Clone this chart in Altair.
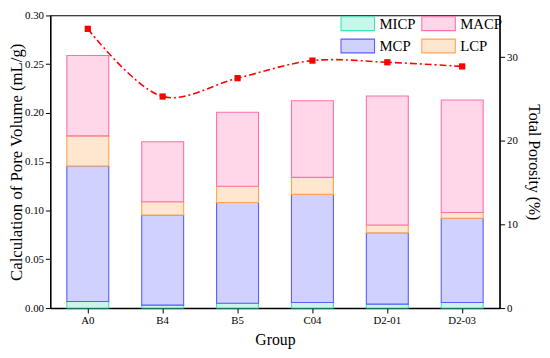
import altair as alt
import pandas as pd

groups = ["A0", "B4", "B5", "C04", "D2-01", "D2-03"]
micp = [0.0068, 0.0030, 0.0050, 0.0057, 0.0040, 0.0057]
mcp = [0.1389, 0.0924, 0.1033, 0.1109, 0.0732, 0.0863]
lcp = [0.0308, 0.0136, 0.0166, 0.0174, 0.0079, 0.0060]
macp = [0.0825, 0.0615, 0.0758, 0.0786, 0.1324, 0.1153]
porosity = [33.4, 25.3, 27.5, 29.6, 29.4, 28.9]

types = ["MICP", "MCP", "LCP", "MACP"]
legend_order = ["MICP", "MCP", "MACP", "LCP"]
stroke_colors = {"MICP": "#3ee0b8", "MACP": "#ff6fae", "MCP": "#5c5cff", "LCP": "#ffa552"}


def tint(hex_color, f=0.28):
    r, g, b = (int(hex_color[i:i + 2], 16) for i in (1, 3, 5))
    mix = lambda c: int(round(255 - (255 - c) * f))
    return "#{:02x}{:02x}{:02x}".format(mix(r), mix(g), mix(b))


rows = []
for i, g in enumerate(groups):
    for k, (t, vals) in enumerate(zip(types, [micp, mcp, lcp, macp])):
        rows.append({"Group": g, "Type": t, "Value": vals[i], "order": k})
bars_df = pd.DataFrame(rows)
line_df = pd.DataFrame({"Group": groups, "Porosity": porosity})

font = "Liberation Serif"

legend_kw = dict(title=None, orient="none", legendX=304, legendY=0, padding=0,
                 columns=2, columnPadding=3, rowPadding=3,
                 symbolType="M-2.43,-1H2.43V1H-2.43Z", symbolSize=196,
                 symbolStrokeWidth=1.1, labelFontSize=15, labelFont=font,
                 labelOffset=14, labelColor="black")

x_enc = alt.X(
    "Group:N",
    sort=groups,
    scale=alt.Scale(paddingInner=0.44, paddingOuter=0.22),
    axis=alt.Axis(title="Group", labelAngle=0, titleFontSize=16,
                  labelFontSize=11, titlePadding=6),
)

bars = alt.Chart(bars_df).mark_bar(strokeWidth=1.1).encode(
    x=x_enc,
    y=alt.Y("Value:Q", stack="zero",
            scale=alt.Scale(domain=[0, 0.30], nice=False),
            axis=alt.Axis(title="Calculation of Pore Volume (mL/g)",
                          values=[0, 0.05, 0.10, 0.15, 0.20, 0.25, 0.30],
                          format=".2f", titleFontSize=17, labelFontSize=11,
                          labelPadding=2, titleX=-25)),
    fill=alt.Fill("Type:N",
                  scale=alt.Scale(domain=legend_order,
                                  range=[tint(stroke_colors[t]) for t in legend_order]),
                  legend=alt.Legend(**legend_kw)),
    stroke=alt.Stroke("Type:N",
                      scale=alt.Scale(domain=legend_order,
                                      range=[stroke_colors[t] for t in legend_order]),
                      legend=alt.Legend(**legend_kw)),
    order=alt.Order("order:Q"),
)

base_line = alt.Chart(line_df).encode(
    x=alt.X("Group:N", sort=groups),
    y=alt.Y("Porosity:Q",
            scale=alt.Scale(domain=[0, 35], nice=False),
            axis=alt.Axis(title="Total Porosity (%)", orient="right",
                          values=[0, 10, 20, 30], titleFontSize=16, labelFontSize=11,
                          labelPadding=2, titlePadding=8)),
)
line = base_line.mark_line(color="#ff0000", strokeWidth=1.6, strokeDash=[7, 3, 2, 3],
                           interpolate="catmull-rom")
points = base_line.mark_point(shape="square", filled=True, color="#ff0000", size=40,
                              opacity=1)

chart = alt.layer(bars, alt.layer(line, points)).resolve_scale(
    y="independent", fill="independent", stroke="independent"
).properties(
    width=456, height=297,
    autosize=alt.AutoSizeParams(type="none"),
    padding={"left": 43, "top": 5, "right": 43, "bottom": 40},
).configure_view(
    stroke="black", strokeWidth=1.2
).configure_axis(
    labelFont=font, titleFont=font, labelColor="black", titleColor="black",
    domainColor="black", tickColor="black", domainWidth=1.2, tickSize=5, grid=False,
    titleFontWeight="normal"
).configure_legend(labelFont=font)

chart.save("out.html", embed_options={"renderer": "svg", "actions": False})
